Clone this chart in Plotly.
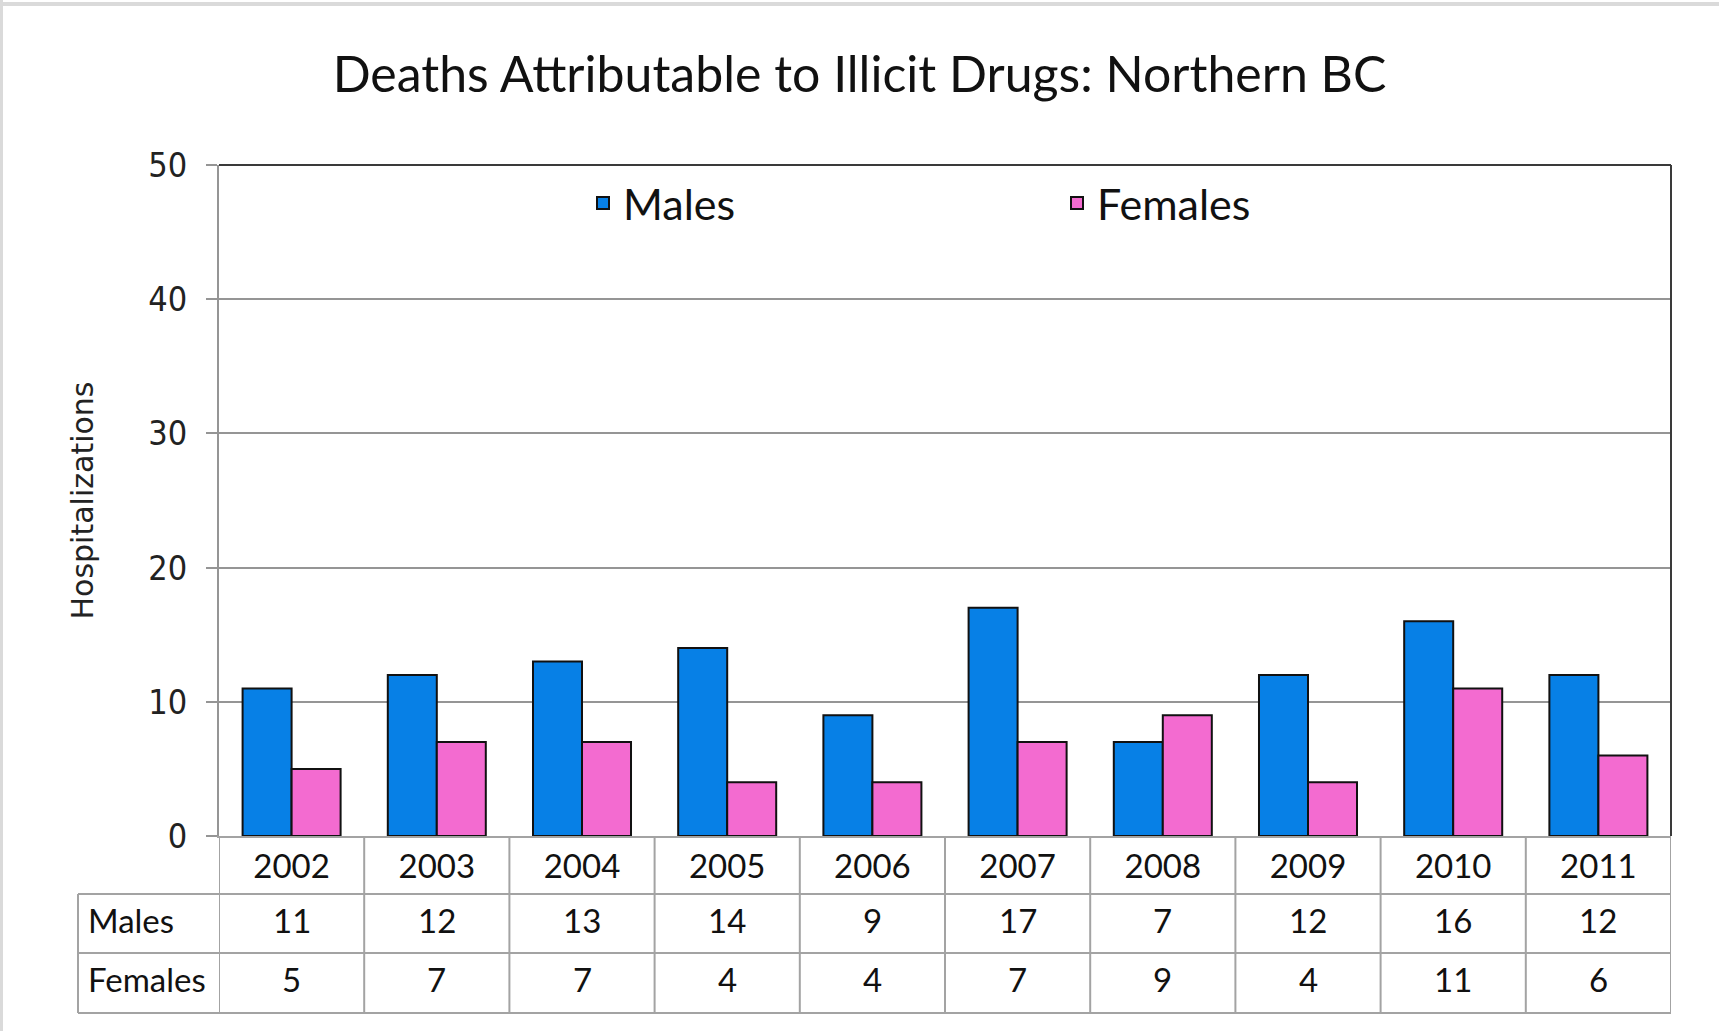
import plotly.graph_objects as go

# ---- data ----
years = ["2002", "2003", "2004", "2005", "2006", "2007", "2008", "2009", "2010", "2011"]
males = [11, 12, 13, 14, 9, 17, 7, 12, 16, 12]
females = [5, 7, 7, 4, 4, 7, 9, 4, 11, 6]
series_names = ["Males", "Females"]
title_text = "Deaths Attributable to Illicit Drugs: Northern BC"
y_title = "Hospitalizations"

# ---- style ----
W, H = 1719, 1031
ML, MR, MT, MB = 219, 48, 165, 195
PH = H - MT - MB
BLUE = "#0780E6"
PINK = "#F36BD0"
GRID = "#959595"
TABLE = "#A3A3A3"
CAL = "Lato, 'Liberation Sans', sans-serif"
TICKF = "'DejaVu Sans Condensed', 'DejaVu Sans', sans-serif"


def py(px):
    """pixel row -> paper y"""
    return (H - MB - px) / PH


def px_x(px):
    return (px - ML) / (W - ML - MR)


fig = go.Figure()
fig.add_trace(go.Bar(x=years, y=males, name=series_names[0],
                     marker=dict(color=BLUE, line=dict(color="#111111", width=2))))
fig.add_trace(go.Bar(x=years, y=females, name=series_names[1],
                     marker=dict(color=PINK, line=dict(color="#111111", width=2))))

shapes = []
# plot frame: top and right in dark
shapes.append(dict(type="line", xref="paper", yref="paper", x0=0, x1=1, y0=1, y1=1,
                   line=dict(color="#3a3a3a", width=2)))
shapes.append(dict(type="line", xref="paper", yref="paper", x0=1, x1=1, y0=0, y1=1,
                   line=dict(color="#3a3a3a", width=2)))

# data table grid
row_bottoms = [894, 953, 1013]
y_bot = py(row_bottoms[-1])
label_left = px_x(78)
for i in range(len(years) + 1):
    shapes.append(dict(type="line", xref="x", yref="paper", x0=i - 0.5, x1=i - 0.5,
                       y0=0, y1=y_bot, line=dict(color=TABLE, width=2)))
shapes.append(dict(type="line", xref="paper", yref="paper", x0=label_left, x1=label_left,
                   y0=py(row_bottoms[0]), y1=y_bot, line=dict(color=TABLE, width=2)))
for rb in row_bottoms:
    shapes.append(dict(type="line", xref="paper", yref="paper", x0=label_left, x1=1,
                       y0=py(rb), y1=py(rb), line=dict(color=TABLE, width=2)))

# outer light frame (top and left edges of the image)
shapes.append(dict(type="line", xref="paper", yref="paper", x0=px_x(0), x1=px_x(W),
                   y0=py(4), y1=py(4), line=dict(color="#DADADA", width=4)))
shapes.append(dict(type="line", xref="paper", yref="paper", x0=px_x(1.5), x1=px_x(1.5),
                   y0=py(0), y1=py(H), line=dict(color="#DADADA", width=3)))

annotations = []
row_centers = [(894 + 953) / 2 - 4, (953 + 1013) / 2 - 4]
for name, vals, yc in zip(series_names, [males, females], row_centers):
    annotations.append(dict(text=name, xref="paper", yref="paper", x=px_x(86), y=py(yc),
                            xanchor="left", yanchor="middle", showarrow=False,
                            font=dict(family=CAL, size=33, color="#111111")))
    for i, v in enumerate(vals):
        annotations.append(dict(text=str(v), xref="x", yref="paper", x=i, y=py(yc),
                                xanchor="center", yanchor="middle", showarrow=False,
                                font=dict(family=CAL, size=33, color="#111111")))

fig.update_layout(
    width=W, height=H,
    margin=dict(l=ML, r=MR, t=MT, b=MB),
    paper_bgcolor="white", plot_bgcolor="white",
    barmode="group", bargap=0.325, bargroupgap=0,
    title=dict(text=title_text, x=0.5, xref="container", xanchor="center",
               y=1 - 74 / H, yref="container", yanchor="middle",
               font=dict(family=CAL, size=50, color="#111111")),
    legend=dict(orientation="h", x=px_x(583), y=py(203), xanchor="left", yanchor="middle",
                entrywidth=429, entrywidthmode="pixels",
                font=dict(family=CAL, size=43, color="#111111"),
                bgcolor="rgba(0,0,0,0)"),
    xaxis=dict(type="category", range=[-0.5, len(years) - 0.5], showgrid=False,
               showline=True, linecolor=TABLE, linewidth=2,
               ticks="", ticklen=0, tickfont=dict(family=CAL, size=33, color="#111111"),
               ticklabelstandoff=0, fixedrange=True),
    yaxis=dict(range=[0, 50], dtick=10, showgrid=True, gridcolor=GRID, gridwidth=2,
               showline=True, linecolor=GRID, linewidth=2, ticks="outside", ticklen=11,
               tickcolor=GRID, tickwidth=2, ticklabelstandoff=12,
               tickfont=dict(family=TICKF, size=34, color="#222222"),
               title=dict(text=y_title, font=dict(family="DejaVu Sans", size=30, color="#222222"),
                          standoff=46),
               zeroline=False),
    shapes=shapes,
    annotations=annotations,
    showlegend=True,
)

fig.write_html("out.html", config={"displayModeBar": False},
               post_script="document.body.style.margin='0';")
